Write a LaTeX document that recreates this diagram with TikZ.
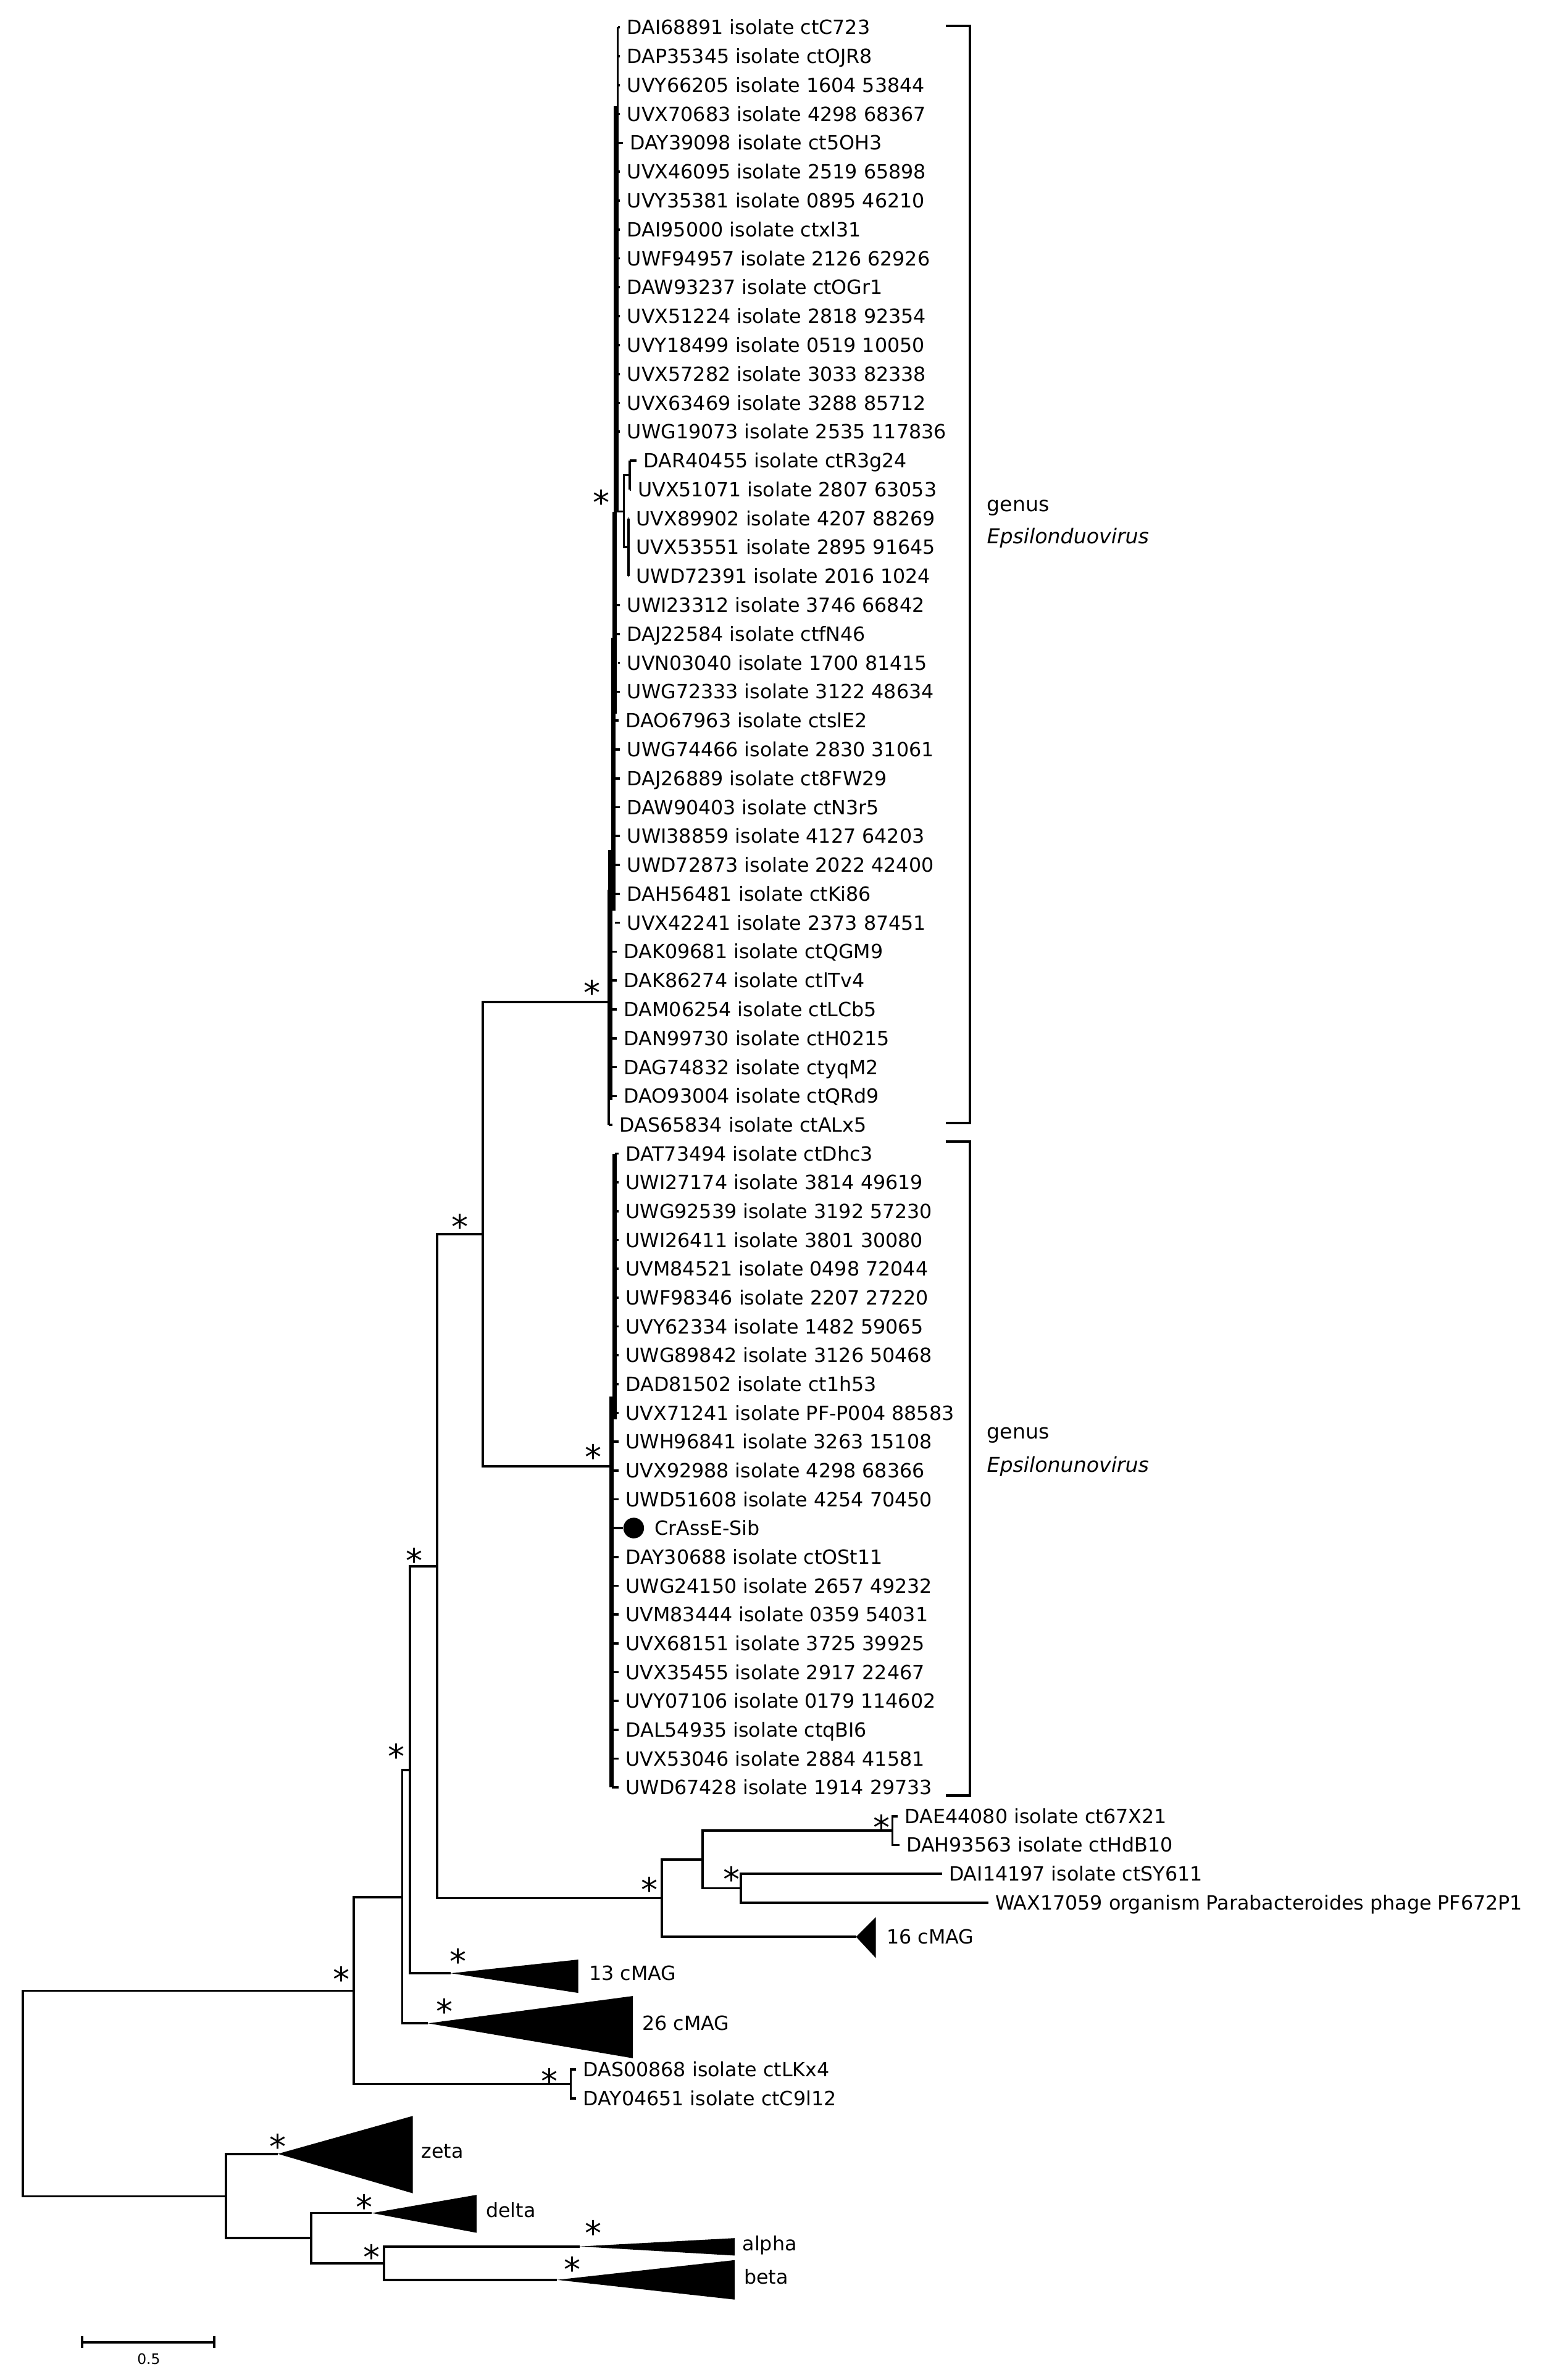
\documentclass[tikz,border=0pt]{standalone}
\usepackage{fontspec}
\setmainfont{DejaVu Sans}
\begin{document}
\begin{tikzpicture}[x=1pt,y=-1pt,
  branch/.style={line width=1.5pt},
  spine/.style={line width=3pt},
  leaf/.style={anchor=west, inner xsep=4.5pt, inner ysep=0pt, text height=9.4pt, text depth=0pt, font=\fontsize{12.9}{14}\selectfont},
  supp/.style={anchor=base, inner sep=0pt, font=\fontsize{22}{22}\selectfont},
  genus/.style={anchor=base west, inner sep=0pt, font=\fontsize{13.5}{15}\selectfont},
  brk/.style={line width=1.7pt},
]
\useasboundingbox (0,0) rectangle (1015,1568);

% ---------- Epsilonduovirus clade ----------
\foreach \t/\lx/\sx [count=\i from 0] in {
DAI68891 isolate ctC723/413/407,
DAP35345 isolate ctOJR8/413/407,
UVY66205 isolate 1604 53844/413/407,
UVX70683 isolate 4298 68367/413/406,
DAY39098 isolate ct5OH3/415/406,
UVX46095 isolate 2519 65898/413/406,
UVY35381 isolate 0895 46210/413/406,
DAI95000 isolate ctxl31/413/406,
UWF94957 isolate 2126 62926/413/406,
DAW93237 isolate ctOGr1/413/406,
UVX51224 isolate 2818 92354/413/406,
UVY18499 isolate 0519 10050/413/406,
UVX57282 isolate 3033 82338/413/406,
UVX63469 isolate 3288 85712/413/406,
UWG19073 isolate 2535 117836/413/406,
DAR40455 isolate ctR3g24/424/415,
UVX51071 isolate 2807 63053/420/415,
UVX89902 isolate 4207 88269/419/414,
UVX53551 isolate 2895 91645/419/414,
UWD72391 isolate 2016 1024/419/414,
UWI23312 isolate 3746 66842/413/405,
DAJ22584 isolate ctfN46/413/405,
UVN03040 isolate 1700 81415/413/407,
UWG72333 isolate 3122 48634/413/404,
DAO67963 isolate ctslE2/412/404,
UWG74466 isolate 2830 31061/413/404,
DAJ26889 isolate ct8FW29/413/404,
DAW90403 isolate ctN3r5/413/404,
UWI38859 isolate 4127 64203/413/404,
UWD72873 isolate 2022 42400/413/404,
DAH56481 isolate ctKi86/413/404,
UVX42241 isolate 2373 87451/413/405,
DAK09681 isolate ctQGM9/411/402,
DAK86274 isolate ctlTv4/411/402,
DAM06254 isolate ctLCb5/411/402,
DAN99730 isolate ctH0215/411/402,
DAG74832 isolate ctyqM2/411/402,
DAO93004 isolate ctQRd9/411/402,
DAS65834 isolate ctALx5/408/401}
{
  \pgfmathsetmacro\yy{18+\i*19.03}
  \node[leaf] (t\i) at ({\lx-4.5},\yy) {\t};
  \draw[branch] (\sx,\yy) -- (t\i.west);
}
% spine of the clade
\draw[branch] (407,18) -- (407,75);
\draw[spine] (406,70) -- (406,337);
\draw[spine] (405,337) -- (405,470);
\draw[spine] (404,420) -- (404,600);
\draw[spine] (402,560) -- (402,725);
\draw[branch] (401,586) -- (401,741.2);
% small sub-clade
\coordinate (P) at (406,337);
\coordinate (P1) at (411,337);
\coordinate (Q) at (415,313);
\coordinate (Rr) at (414,360.5);
\draw[branch] (P) -- (P1);
\draw[branch] (Q) -| (P1) |- (Rr);
\draw[branch] (Q |- t15.west) -- (Q |- t16.west);
\draw[branch] (Rr |- t17.west) -- (Rr |- t19.west);

% ---------- Epsilonunovirus clade ----------
\foreach \t/\sx [count=\j from 0] in {
DAT73494 isolate ctDhc3/405,
UWI27174 isolate 3814 49619/405,
UWG92539 isolate 3192 57230/405,
UWI26411 isolate 3801 30080/405,
UVM84521 isolate 0498 72044/405,
UWF98346 isolate 2207 27220/405,
UVY62334 isolate 1482 59065/405,
UWG89842 isolate 3126 50468/405,
DAD81502 isolate ct1h53/405,
UVX71241 isolate PF-P004 88583/405,
UWH96841 isolate 3263 15108/403,
UVX92988 isolate 4298 68366/403,
UWD51608 isolate 4254 70450/403}
{
  \pgfmathsetmacro\yy{760+\j*18.98}
  \node[leaf] (b\j) at (407.5,\yy) {\t};
  \draw[branch] (\sx,\yy) -- (b\j.west);
}
\foreach \t/\sx [count=\j from 14] in {
DAY30688 isolate ctOSt11/403,
UWG24150 isolate 2657 49232/403,
UVM83444 isolate 0359 54031/403,
UVX68151 isolate 3725 39925/403,
UVX35455 isolate 2917 22467/403,
UVY07106 isolate 0179 114602/403,
DAL54935 isolate ctqBI6/403,
UVX53046 isolate 2884 41581/403,
UWD67428 isolate 1914 29733/403}
{
  \pgfmathsetmacro\yy{760+\j*18.98}
  \node[leaf] (b\j) at (407.5,\yy) {\t};
  \draw[branch] (\sx,\yy) -- (b\j.west);
}
\node[circle, fill=black, inner sep=0pt, minimum size=13.6pt] (dot) at (417.5,1006.7) {};
\node[leaf] (b13) at (426.5,1006.7) {CrAssE-Sib};
\draw[branch] (403,1006.7) -- (dot.west);
\draw[spine] (405,760) -- (405,935);
\draw[spine] (403,920) -- (403,1177.5);

% ---------- genus brackets ----------
\coordinate (k1a) at (623,17);
\coordinate (k1b) at (623,740);
\coordinate (k2a) at (623,752);
\coordinate (k2b) at (623,1183);
\draw[brk] (k1a) -- (639,17) -- (639,740) -- (k1b);
\draw[brk] (k2a) -- (639,752) -- (639,1183) -- (k2b);
\node[genus] (g1) at (650,337) {genus};
\node[genus] (g1i) at (650,358) {\itshape Epsilonduovirus};
\node[genus] (g2) at (650,948) {genus};
\node[genus] (g2i) at (650,970) {\itshape Epsilonunovirus};

% ---------- other leaves ----------
\node[leaf] (dae) at (591.5,1196.5) {DAE44080 isolate ct67X21};
\node[leaf] (dah) at (592.5,1215.5) {DAH93563 isolate ctHdB10};
\node[leaf] (dai) at (620.5,1234.5) {DAI14197 isolate ctSY611};
\node[leaf] (wax) at (651,1253.5) {WAX17059 organism Parabacteroides phage PF672P1};
\node[leaf] (das) at (379.5,1363.5) {DAS00868 isolate ctLKx4};
\node[leaf] (day) at (379.5,1382.5) {DAY04651 isolate ctC9l12};

% ---------- collapsed clades ----------
\coordinate (T13) at (297,1300);
\coordinate (T26) at (282,1333);
\coordinate (T16) at (564,1276);
\coordinate (TZ) at (183,1419);
\coordinate (TD) at (245,1458);
\coordinate (TA) at (382,1480);
\coordinate (TB) at (367,1502);
\fill (T13) -- (381,1291) -- (381,1313) -- cycle;
\fill (T26) -- (417,1315) -- (417,1356) -- cycle;
\fill (T16) -- (577,1263) -- (577,1290) -- cycle;
\fill (TZ) -- (272,1394) -- (272,1445) -- cycle;
\fill (TD) -- (314,1446) -- (314,1471) -- cycle;
\fill (TA) -- (484,1474.5) -- (484,1486) -- cycle;
\fill (TB) -- (484,1489) -- (484,1515) -- cycle;
\node[leaf] (l13) at (383.5,1300) {13 cMAG};
\node[leaf] (l26) at (418.5,1333) {26 cMAG};
\node[leaf] (l16) at (579.5,1276) {16 cMAG};
\node[leaf] (lz) at (273,1417) {zeta};
\node[leaf] (ld) at (315.5,1456) {delta};
\node[leaf] (la) at (484.5,1478) {alpha};
\node[leaf] (lb) at (485.5,1500) {beta};

% ---------- internal nodes ----------
\coordinate (R) at (15,1379);
\coordinate (A) at (233,1311.5);
\coordinate (F) at (149,1447);
\coordinate (G) at (205,1474.5);
\coordinate (H) at (253,1491);
\coordinate (E) at (265,1250);
\coordinate (D) at (270,1166);
\coordinate (B) at (288,1032);
\coordinate (C) at (318,813);
\coordinate (U1) at (401,660);
\coordinate (U2) at (403,966);
\coordinate (K) at (436,1250.5);
\coordinate (L) at (463,1225);
\coordinate (M) at (588,1206);
\coordinate (N) at (488,1244);
\coordinate (DS) at (376,1373);

\draw[branch] (A) -| (R) |- (F);
\draw[branch] (TZ) -| (F) |- (G);
\draw[branch] (TD) -| (G) |- (H);
\draw[branch] (TA) -| (H) |- (TB);
\draw[branch] (E) -| (A) |- (DS);
\draw[branch] (das.west) -| (DS) |- (day.west);
\draw[branch] (D) -| (E) |- (T26);
\draw[branch] (B) -| (D) |- (T13);
\draw[branch] (C) -| (B) |- (K);
\draw[branch] (U1) -| (C) |- (U2);
\draw[branch] (L) -| (K) |- (T16);
\draw[branch] (M) -| (L) |- (N);
\draw[branch] (dae.west) -| (M) |- (dah.west);
\draw[branch] (dai.west) -| (N) |- (wax.west);

% ---------- support marks ----------
\node[supp] (s1) at (390,662) {*};
\node[supp] (s2) at (396,339) {*};
\node[supp] (s3) at (391,968) {*};
\node[supp] (s4) at (303,816) {*};
\node[supp] (s5) at (273,1036) {*};
\node[supp] (s6) at (261,1165) {*};
\node[supp] (s7) at (225,1312) {*};
\node[supp] (s8) at (302,1300) {*};
\node[supp] (s9) at (293,1333) {*};
\node[supp] (s10) at (362,1379) {*};
\node[supp] (s11) at (428,1253) {*};
\node[supp] (s12) at (581,1212) {*};
\node[supp] (s13) at (482,1246) {*};
\node[supp] (s14) at (183,1422) {*};
\node[supp] (s15) at (240,1462) {*};
\node[supp] (s16) at (245,1495) {*};
\node[supp] (s17) at (391,1479) {*};
\node[supp] (s18) at (377,1503) {*};

% ---------- scale bar ----------
\coordinate (sb1) at (54,1543);
\coordinate (sb2) at (141,1543);
\draw[line width=1.6pt] (sb1) -- (sb2);
\draw[line width=1.6pt] (54,1539) -- (54,1547);
\draw[line width=1.6pt] (141,1539) -- (141,1547);
\node[font=\fontsize{9.5}{10}\selectfont, inner sep=0pt] (sbl) at (98,1554) {0.5};
\end{tikzpicture}
\end{document}
